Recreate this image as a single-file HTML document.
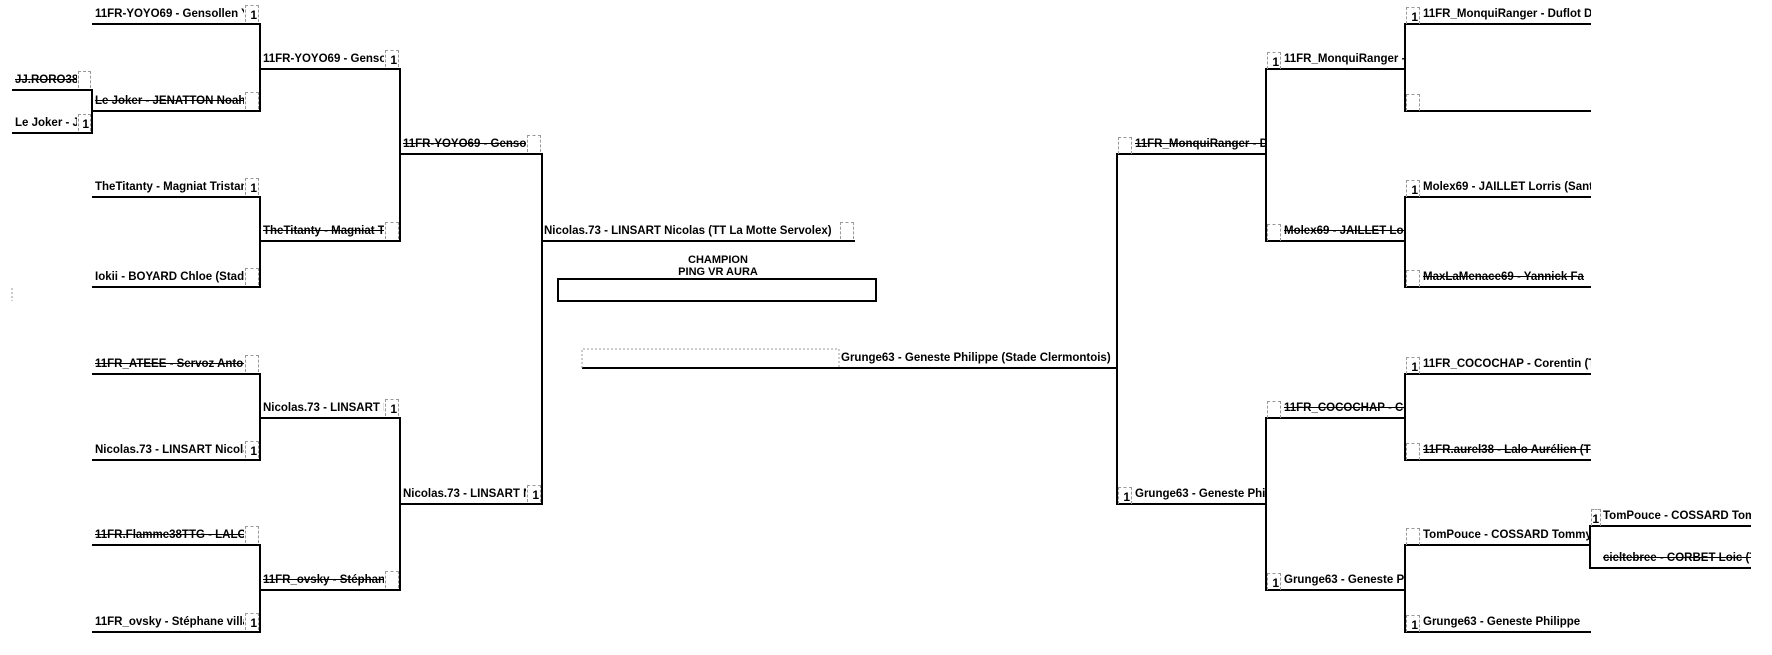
<!DOCTYPE html>
<html><head><meta charset="utf-8">
<style>
body{margin:0;width:1772px;height:655px;background:#fff;position:relative;overflow:hidden}
.l{position:absolute;height:15px;line-height:15px;font:bold 11.5px "Liberation Sans",sans-serif;color:#000;overflow:hidden;white-space:nowrap;letter-spacing:0}
.s{text-decoration:line-through}
.b{position:absolute;width:14px;height:17px;border:1px dashed #999;border-bottom:none;font:bold 12px "Liberation Sans",sans-serif;line-height:18px;text-align:right;box-sizing:border-box;padding-right:1px}
svg{position:absolute;left:0;top:0}
</style></head><body>
<svg width="1772" height="655" shape-rendering="crispEdges" stroke="#000" stroke-width="2" fill="none">
<path d="M12 90H92M12 133H92M92 89V134
M92 24H260M92 111H260M92 197H260M92 287H260M92 374H260M92 460H260M92 545H260M92 632H260
M260 23V112M260 196V288M260 373V461M260 544V633
M260 69H400M260 241H400M260 418H400M260 590H400
M400 68V242M400 417V591
M400 154H542M400 504H542M542 153V505M542 241H855
M582 368H1117
M1117 153V505M1117 154H1266M1117 504H1266
M1266 68V242M1266 417V591
M1266 69H1405M1266 241H1405M1266 418H1405M1266 590H1405
M1405 23V112M1405 196V288M1405 373V461M1405 544V633
M1405 24H1591M1405 111H1591M1405 197H1591M1405 287H1591M1405 374H1591M1405 460H1591M1405 545H1591M1405 632H1591
M1590 525V569M1590 526H1751M1590 568H1751"/>
<rect x="558" y="279" width="318" height="22"/>
<path d="M12 288V301" stroke="#999" stroke-width="1" stroke-dasharray="2,2"/>
<path d="M582 368V349H839V368" stroke="#999" stroke-width="1" stroke-dasharray="2,2"/>
</svg>

<div class="l s" style="left:15px;top:74px;width:62px">JJ.RORO38</div><div class="b" style="left:78px;top:71px;width:13px"></div>
<div class="l" style="left:15px;top:117px;width:62px">Le Joker - JENATTON</div><div class="b" style="left:78px;top:114px;width:13px">1</div>

<div class="l" style="left:95px;top:8px;width:149px">11FR-YOYO69 - Gensollen Yoann</div><div class="b" style="left:245px;top:5px">1</div>
<div class="l s" style="left:95px;top:95px;width:149px">Le Joker - JENATTON Noah</div><div class="b" style="left:245px;top:92px"></div>
<div class="l" style="left:95px;top:181px;width:149px">TheTitanty - Magniat Tristan</div><div class="b" style="left:245px;top:178px">1</div>
<div class="l" style="left:95px;top:271px;width:149px">Iokii - BOYARD Chloe (Stade</div><div class="b" style="left:245px;top:268px"></div>
<div class="l s" style="left:95px;top:358px;width:149px">11FR_ATEEE - Servoz Antoine</div><div class="b" style="left:245px;top:355px"></div>
<div class="l" style="left:95px;top:444px;width:149px">Nicolas.73 - LINSART Nicolas</div><div class="b" style="left:245px;top:441px">1</div>
<div class="l s" style="left:95px;top:529px;width:149px">11FR.Flamme38TTG - LALO</div><div class="b" style="left:245px;top:526px"></div>
<div class="l" style="left:95px;top:616px;width:149px">11FR_ovsky - Stéphane villa</div><div class="b" style="left:245px;top:613px">1</div>

<div class="l" style="left:263px;top:53px;width:121px">11FR-YOYO69 - Gensollen</div><div class="b" style="left:385px;top:50px">1</div>
<div class="l s" style="left:263px;top:225px;width:121px">TheTitanty - Magniat Tristan</div><div class="b" style="left:385px;top:222px"></div>
<div class="l" style="left:263px;top:402px;width:121px">Nicolas.73 - LINSART Nicolas</div><div class="b" style="left:385px;top:399px">1</div>
<div class="l s" style="left:263px;top:574px;width:121px">11FR_ovsky - Stéphane</div><div class="b" style="left:385px;top:571px"></div>

<div class="l s" style="left:403px;top:138px;width:123px">11FR-YOYO69 - Gensollen</div><div class="b" style="left:527px;top:135px"></div>
<div class="l" style="left:403px;top:488px;width:123px">Nicolas.73 - LINSART Nicolas</div><div class="b" style="left:527px;top:485px">1</div>

<div class="l" style="left:544px;top:225px;width:295px">Nicolas.73 - LINSART Nicolas (TT La Motte Servolex)</div><div class="b" style="left:840px;top:222px"></div>
<div style="position:absolute;left:558px;top:254px;width:320px;text-align:center;font:bold 11px 'Liberation Sans',sans-serif;line-height:12px">CHAMPION<br>PING VR AURA</div>
<div class="l" style="left:841px;top:352px;width:276px">Grunge63 - Geneste Philippe (Stade Clermontois)</div>

<div class="b" style="left:1118px;top:137px"></div><div class="l s" style="left:1135px;top:138px;width:130px">11FR_MonquiRanger - Duflot</div>
<div class="b" style="left:1118px;top:487px">1</div><div class="l" style="left:1135px;top:488px;width:130px">Grunge63 - Geneste Philippe</div>

<div class="b" style="left:1267px;top:52px">1</div><div class="l" style="left:1284px;top:53px;width:120px">11FR_MonquiRanger - Duflot</div>
<div class="b" style="left:1267px;top:224px"></div><div class="l s" style="left:1284px;top:225px;width:120px">Molex69 - JAILLET Lorris</div>
<div class="b" style="left:1267px;top:401px"></div><div class="l s" style="left:1284px;top:402px;width:120px">11FR_COCOCHAP - Corentin</div>
<div class="b" style="left:1267px;top:573px">1</div><div class="l" style="left:1284px;top:574px;width:120px">Grunge63 - Geneste Philippe</div>

<div class="b" style="left:1406px;top:7px">1</div><div class="l" style="left:1423px;top:8px;width:168px">11FR_MonquiRanger - Duflot Damien</div>
<div class="b" style="left:1406px;top:94px"></div>
<div class="b" style="left:1406px;top:180px">1</div><div class="l" style="left:1423px;top:181px;width:168px">Molex69 - JAILLET Lorris (Sant</div>
<div class="b" style="left:1406px;top:270px"></div><div class="l s" style="left:1423px;top:271px;width:168px">MaxLaMenace69 - Yannick Fa</div>
<div class="b" style="left:1406px;top:357px">1</div><div class="l" style="left:1423px;top:358px;width:168px">11FR_COCOCHAP - Corentin (T</div>
<div class="b" style="left:1406px;top:443px"></div><div class="l s" style="left:1423px;top:444px;width:168px">11FR.aurel38 - Lalo Aurélien (T</div>
<div class="b" style="left:1406px;top:528px"></div><div class="l" style="left:1423px;top:529px;width:166px">TomPouce - COSSARD Tommy</div>
<div class="b" style="left:1406px;top:615px">1</div><div class="l" style="left:1423px;top:616px;width:168px">Grunge63 - Geneste Philippe</div>

<div class="b" style="left:1591px;top:509px;width:10px">1</div><div class="l" style="left:1603px;top:510px;width:148px">TomPouce - COSSARD Tommy</div>
<div class="l s" style="left:1603px;top:552px;width:148px">cieltebree - CORBET Loic (T</div>
</body></html>
